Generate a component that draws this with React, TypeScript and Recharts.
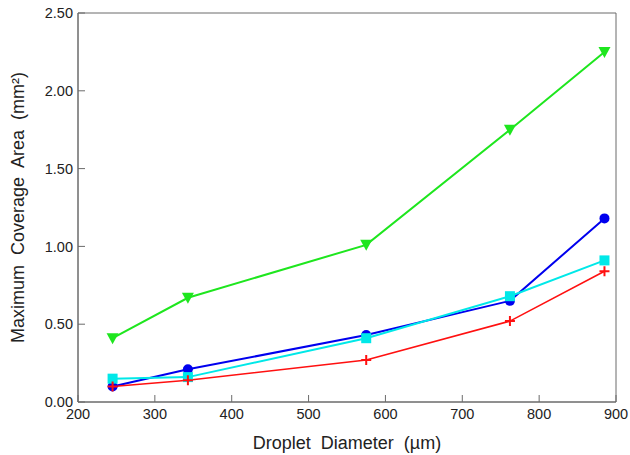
import { LineChart, Line, XAxis, YAxis, ReferenceArea, Label } from 'recharts';

const diameters = [245, 343, 575, 762, 885];
const greenSeries = [0.41, 0.67, 1.01, 1.75, 2.25];
const blueSeries = [0.1, 0.21, 0.43, 0.65, 1.18];
const cyanSeries = [0.15, 0.16, 0.41, 0.68, 0.91];
const redSeries = [0.1, 0.14, 0.27, 0.52, 0.84];

const xTicks = [200, 300, 400, 500, 600, 700, 800, 900];
const yTicks = [0, 0.5, 1, 1.5, 2, 2.5];

const data = diameters.map((d, i) => ({
  d,
  green: greenSeries[i],
  blue: blueSeries[i],
  cyan: cyanSeries[i],
  red: redSeries[i],
}));

const AXIS = '#6b6b6b';
const FONT = 'Arial, "Liberation Sans", sans-serif';
const SP = '\u00a0 ';

const TriangleDown = (p: any) => (
  <path key={p.key} d={`M${p.cx - 6},${p.cy - 5}L${p.cx + 6},${p.cy - 5}L${p.cx},${p.cy + 6}Z`} fill="#1ee61e" />
);
const Circle = (p: any) => <circle key={p.key} cx={p.cx} cy={p.cy} r={5} fill="#0000ee" />;
const Square = (p: any) => <rect key={p.key} x={p.cx - 5} y={p.cy - 5} width={10} height={10} fill="#00e8e8" />;
const Plus = (p: any) => (
  <path key={p.key} d={`M${p.cx - 5},${p.cy}H${p.cx + 5}M${p.cx},${p.cy - 5}V${p.cy + 5}`} stroke="#ff1010" strokeWidth={2} />
);

export default function App() {
  return (
    <div style={{ position: 'absolute', left: 0, top: 0, width: 630, height: 455, background: '#fff' }}>
      <LineChart width={630} height={455} data={data} margin={{ top: 13, right: 14, left: 0, bottom: 0 }}>
        <XAxis
          dataKey="d"
          type="number"
          domain={[200, 900]}
          ticks={xTicks}
          height={53}
          stroke={AXIS}
          tickSize={-7}
          tickMargin={14}
          tick={{ fill: '#222', fontSize: 14.5, fontFamily: FONT }}
        >
          <Label value={`Droplet${SP}Diameter${SP}(µm)`} position="insideBottom" offset={6} style={{ fill: '#222', fontSize: 18, fontFamily: FONT }} />
        </XAxis>
        <YAxis
          type="number"
          domain={[0, 2.5]}
          ticks={yTicks}
          width={78}
          stroke={AXIS}
          tickSize={-7}
          tickMargin={12}
          tickFormatter={(v: number) => v.toFixed(2)}
          tick={{ fill: '#222', fontSize: 14.5, fontFamily: FONT }}
        >
          <Label value={`Maximum${SP}Coverage${SP}Area${SP}(mm²)`} angle={-90} position="insideLeft" offset={18} style={{ fill: '#222', fontSize: 18, fontFamily: FONT, textAnchor: 'middle' }} />
        </YAxis>
        <ReferenceArea x1={200} x2={900} y1={0} y2={2.5} fill="none" stroke={AXIS} strokeWidth={1} />
        <Line dataKey="green" stroke="#1ee61e" strokeWidth={2} dot={TriangleDown} isAnimationActive={false} />
        <Line dataKey="blue" stroke="#0000ee" strokeWidth={2} dot={Circle} isAnimationActive={false} />
        <Line dataKey="cyan" stroke="#00e8e8" strokeWidth={2} dot={Square} isAnimationActive={false} />
        <Line dataKey="red" stroke="#ff1010" strokeWidth={1.6} dot={Plus} isAnimationActive={false} />
      </LineChart>
    </div>
  );
}
